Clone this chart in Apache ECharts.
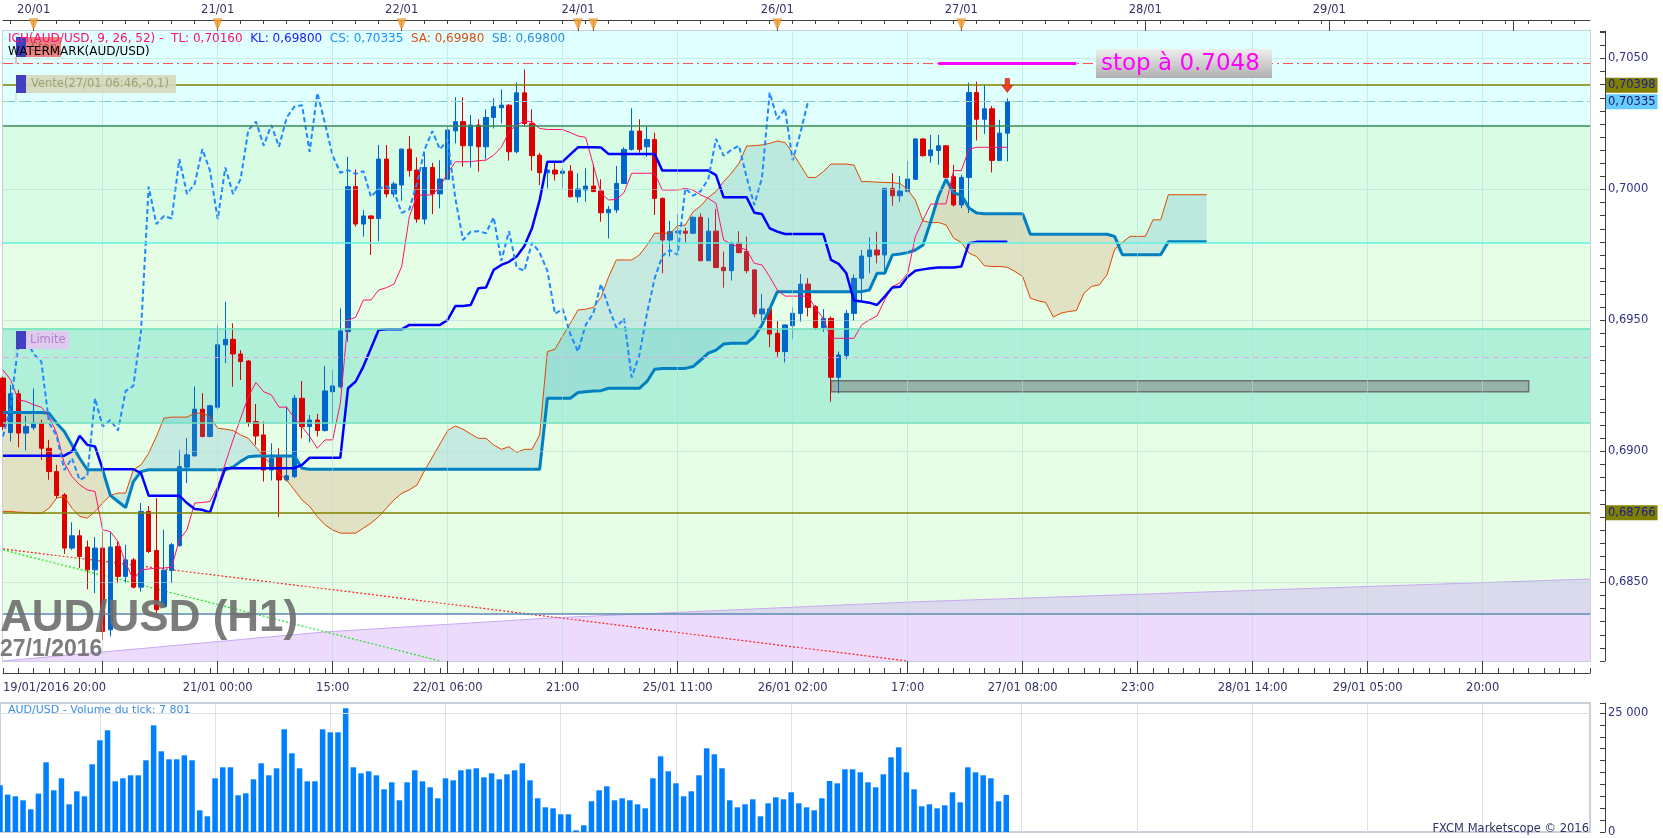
<!DOCTYPE html>
<html><head><meta charset="utf-8">
<script src="https://cdn.jsdelivr.net/npm/echarts/dist/echarts.min.js"></script>
<style>html,body{margin:0;padding:0;background:#fff}#c{width:1663px;height:838px}</style>
</head><body><div id="c"></div>
<script>
// ---------- DATA (AUD/USD H1, 19/01/2016 20:00 -> 27/01/2016 06:00) ----------
const sessions = [
  {y:2016, m:1, d:19, h:20, count:75},   // 19/01 20:00 .. 22/01 22:00
  {y:2016, m:1, d:24, h:22, count:133}   // 24/01 22:00 .. future slots
];
const opens=[0.69280,0.69072,0.69220,0.69070,0.69091,0.69108,0.69012,0.68923,0.68834,0.68631,
0.68678,0.68635,0.68548,0.68631,0.68319,0.68637,0.68523,0.68586,0.68482,0.68771,
0.68622,0.68408,0.68546,0.68640,0.68940,0.68983,0.69161,0.69057,0.69169,0.69407,
0.69428,0.69372,0.69345,0.69114,0.69063,0.68929,0.68980,0.68891,0.68904,0.69203,
0.69095,0.69120,0.69080,0.69228,0.69247,0.69457,0.70011,0.69868,0.69899,0.69889,
0.70116,0.69983,0.70017,0.70154,0.70074,0.69887,0.70084,0.69983,0.70039,0.70224,
0.70259,0.70167,0.70246,0.70163,0.70275,0.70312,0.70322,0.70144,0.70369,0.70252,
0.70131,0.70064,0.70074,0.70062,0.70070,0.69972,0.69998,0.70013,0.69994,0.69911,
0.69922,0.70023,0.70153,0.70223,0.70163,0.70191,0.69966,0.69807,0.69835,0.69841,
0.69833,0.69894,0.69728,0.69841,0.69703,0.69690,0.69797,0.69763,0.69693,0.69525,
0.69544,0.69451,0.69381,0.69480,0.69527,0.69639,0.69553,0.69473,0.69508,0.69283,
0.69366,0.69527,0.69661,0.69744,0.69769,0.69750,0.70004,0.69976,0.69992,0.70039,
0.70193,0.70129,0.70149,0.70167,0.70049,0.69941,0.70046,0.70370,0.70268,0.70308,
0.70111,0.70215];
const highs=[0.69286,0.69254,0.69235,0.69136,0.69241,0.69121,0.69044,0.68949,0.68841,0.68729,
0.68701,0.68660,0.68673,0.68694,0.68691,0.68656,0.68644,0.68593,0.68803,0.68792,
0.68822,0.68701,0.68650,0.69006,0.69051,0.69248,0.69222,0.69178,0.69480,0.69572,
0.69489,0.69387,0.69349,0.69181,0.69114,0.69031,0.69012,0.69171,0.69216,0.69269,
0.69139,0.69143,0.69326,0.69311,0.69546,0.70125,0.70077,0.69922,0.69901,0.70170,
0.70170,0.70030,0.70157,0.70204,0.70123,0.70140,0.70102,0.70112,0.70242,0.70352,
0.70352,0.70284,0.70268,0.70306,0.70348,0.70382,0.70326,0.70408,0.70458,0.70306,
0.70140,0.70077,0.70102,0.70081,0.70093,0.70062,0.70081,0.70097,0.70039,0.69937,
0.70090,0.70161,0.70310,0.70268,0.70240,0.70217,0.69969,0.69880,0.69905,0.69854,
0.69896,0.69909,0.69892,0.69925,0.69763,0.69801,0.69841,0.69820,0.69695,0.69601,
0.69546,0.69498,0.69483,0.69550,0.69677,0.69661,0.69559,0.69543,0.69515,0.69381,
0.69540,0.69676,0.69769,0.69817,0.69839,0.70007,0.70062,0.70051,0.70109,0.70195,
0.70195,0.70208,0.70208,0.70169,0.70094,0.70056,0.70408,0.70412,0.70399,0.70319,
0.70266,0.70348];
const lows=[0.69082,0.69038,0.69016,0.69004,0.69082,0.68968,0.68892,0.68822,0.68609,0.68624,
0.68555,0.68474,0.68459,0.68281,0.68294,0.68497,0.68497,0.68477,0.68465,0.68612,
0.68383,0.68402,0.68497,0.68637,0.68879,0.68981,0.69054,0.69054,0.69159,0.69337,
0.69247,0.69273,0.69095,0.69025,0.68885,0.68889,0.68750,0.68885,0.68898,0.69050,
0.69034,0.69057,0.69076,0.69108,0.69241,0.69419,0.69858,0.69820,0.69750,0.69803,
0.69970,0.69970,0.69957,0.70049,0.69873,0.69867,0.69906,0.69928,0.70036,0.70176,
0.70087,0.70084,0.70068,0.70115,0.70233,0.70252,0.70110,0.70138,0.70240,0.70072,
0.70017,0.70004,0.70034,0.70004,0.69970,0.69950,0.69953,0.69990,0.69877,0.69813,
0.69911,0.70021,0.70148,0.70140,0.70125,0.69903,0.69680,0.69744,0.69756,0.69794,
0.69830,0.69726,0.69727,0.69699,0.69625,0.69652,0.69756,0.69680,0.69512,0.69495,
0.69398,0.69362,0.69340,0.69428,0.69495,0.69515,0.69464,0.69457,0.69190,0.69222,
0.69352,0.69499,0.69572,0.69680,0.69718,0.69680,0.69938,0.69953,0.69989,0.70036,
0.70125,0.70102,0.70094,0.70043,0.69935,0.69929,0.69910,0.70187,0.70212,0.70065,
0.70108,0.70107];
const closes=[0.69095,0.69220,0.69070,0.69095,0.69108,0.69012,0.68923,0.68832,0.68631,0.68678,
0.68599,0.68548,0.68631,0.68313,0.68635,0.68523,0.68586,0.68482,0.68771,0.68618,
0.68396,0.68546,0.68644,0.68942,0.68987,0.69161,0.69057,0.69174,0.69407,0.69428,
0.69372,0.69343,0.69110,0.69059,0.68929,0.68974,0.68891,0.68907,0.69203,0.69095,
0.69120,0.69080,0.69231,0.69250,0.69460,0.70011,0.69868,0.69899,0.69889,0.70116,
0.69983,0.70021,0.70154,0.70072,0.69887,0.70084,0.69983,0.70040,0.70227,0.70259,
0.70167,0.70246,0.70163,0.70275,0.70316,0.70322,0.70144,0.70369,0.70252,0.70129,
0.70064,0.70074,0.70059,0.70070,0.69972,0.70002,0.70013,0.69992,0.69911,0.69924,
0.70023,0.70153,0.70223,0.70153,0.70191,0.69966,0.69807,0.69839,0.69841,0.69833,
0.69894,0.69728,0.69841,0.69702,0.69690,0.69797,0.69759,0.69690,0.69525,0.69544,
0.69448,0.69381,0.69483,0.69527,0.69639,0.69550,0.69473,0.69508,0.69283,0.69368,
0.69527,0.69661,0.69746,0.69769,0.69750,0.70004,0.69976,0.69994,0.70040,0.70193,
0.70129,0.70151,0.70167,0.70046,0.69941,0.70046,0.70370,0.70268,0.70308,0.70111,
0.70215,0.70335];
const tenkan=[0.69311,0.69273,0.69197,0.69191,0.69178,0.69169,0.69133,0.69070,0.68955,0.68904,
0.68873,0.68853,0.68847,0.68701,0.68694,0.68656,0.68574,0.68510,0.68548,0.68551,
0.68555,0.68555,0.68558,0.68663,0.68701,0.68803,0.68805,0.68809,0.68866,0.68955,
0.69044,0.69127,0.69209,0.69263,0.69228,0.69216,0.69169,0.69169,0.69127,0.69095,
0.69057,0.69012,0.69044,0.69044,0.69184,0.69502,0.69512,0.69578,0.69578,0.69616,
0.69625,0.69639,0.69705,0.69896,0.69979,0.69979,0.69979,0.70011,0.70062,0.70106,
0.70106,0.70106,0.70110,0.70112,0.70131,0.70161,0.70221,0.70246,0.70261,0.70259,
0.70233,0.70229,0.70229,0.70229,0.70217,0.70204,0.70199,0.70093,0.69985,0.69960,
0.69962,0.69988,0.70062,0.70062,0.70062,0.70062,0.69998,0.69998,0.69998,0.70004,
0.69998,0.69979,0.69966,0.69947,0.69807,0.69792,0.69779,0.69769,0.69718,0.69712,
0.69667,0.69616,0.69593,0.69593,0.69593,0.69593,0.69546,0.69508,0.69432,0.69432,
0.69432,0.69432,0.69483,0.69502,0.69517,0.69578,0.69629,0.69644,0.69680,0.69820,
0.69883,0.69944,0.69945,0.69945,0.70072,0.70072,0.70154,0.70161,0.70161,0.70161,
0.70161,0.70161];
const kijun=[0.68984,0.68984,0.68984,0.68984,0.68984,0.68984,0.68984,0.68984,0.68984,0.69000,
0.69060,0.69025,0.69019,0.68932,0.68932,0.68932,0.68932,0.68932,0.68917,0.68831,
0.68831,0.68831,0.68831,0.68831,0.68803,0.68780,0.68777,0.68767,0.68853,0.68936,
0.68936,0.68936,0.68936,0.68936,0.68936,0.68936,0.68936,0.68936,0.68936,0.68949,
0.68976,0.68976,0.68976,0.68976,0.68976,0.69241,0.69267,0.69324,0.69394,0.69464,
0.69466,0.69466,0.69466,0.69483,0.69483,0.69483,0.69483,0.69483,0.69502,0.69555,
0.69555,0.69559,0.69623,0.69626,0.69693,0.69712,0.69724,0.69744,0.69784,0.69852,
0.69960,0.70106,0.70106,0.70106,0.70134,0.70161,0.70161,0.70161,0.70160,0.70135,
0.70135,0.70135,0.70135,0.70135,0.70135,0.70135,0.70072,0.70072,0.70072,0.70072,
0.70072,0.70072,0.70072,0.70055,0.69970,0.69970,0.69970,0.69970,0.69911,0.69906,
0.69852,0.69839,0.69830,0.69830,0.69830,0.69830,0.69830,0.69830,0.69731,0.69716,
0.69680,0.69576,0.69572,0.69568,0.69559,0.69591,0.69626,0.69629,0.69667,0.69690,
0.69695,0.69699,0.69702,0.69702,0.69702,0.69706,0.69795,0.69800,0.69800,0.69800,
0.69800,0.69800];
const senkouA=[0.68771,0.68771,0.68768,0.68767,0.68764,0.68764,0.68783,0.68822,0.68828,0.68783,
0.68752,0.68745,0.68771,0.68803,0.68832,0.68841,0.68841,0.68930,0.68949,0.68993,
0.69057,0.69127,0.69131,0.69131,0.69131,0.69146,0.69146,0.69133,0.69089,0.69085,
0.69080,0.69063,0.69050,0.69016,0.68980,0.68949,0.68917,0.68891,0.68853,0.68815,
0.68790,0.68751,0.68720,0.68700,0.68688,0.68688,0.68688,0.68707,0.68726,0.68751,
0.68783,0.68815,0.68840,0.68853,0.68872,0.68927,0.68978,0.69029,0.69080,0.69097,
0.69085,0.69067,0.69050,0.69050,0.69025,0.69008,0.69018,0.68996,0.69008,0.69008,
0.69063,0.69381,0.69390,0.69441,0.69489,0.69540,0.69543,0.69550,0.69588,0.69667,
0.69731,0.69731,0.69731,0.69750,0.69788,0.69833,0.69833,0.69833,0.69862,0.69864,
0.69915,0.69937,0.69970,0.69992,0.70030,0.70062,0.70100,0.70166,0.70167,0.70170,
0.70176,0.70185,0.70179,0.70140,0.70093,0.70046,0.70046,0.70068,0.70097,0.70097,
0.70097,0.70093,0.70030,0.70030,0.70028,0.70027,0.70026,0.70023,0.70000,0.69960,
0.69880,0.69873,0.69874,0.69865,0.69814,0.69798,0.69757,0.69744,0.69709,0.69706,
0.69706,0.69703,0.69687,0.69668,0.69585,0.69575,0.69569,0.69513,0.69528,0.69534,
0.69538,0.69604,0.69630,0.69636,0.69674,0.69772,0.69798,0.69821,0.69821,0.69821,
0.69884,0.69884,0.69980,0.69980,0.69980,0.69980,0.69980,0.69980];
const senkouB=[0.69149,0.69149,0.69149,0.69149,0.69149,0.69149,0.69146,0.69108,0.69076,0.69025,
0.68974,0.68930,0.68930,0.68930,0.68832,0.68809,0.68786,0.68885,0.68923,0.68930,
0.68930,0.68930,0.68930,0.68930,0.68930,0.68930,0.68930,0.68930,0.68930,0.68930,
0.68940,0.68962,0.68980,0.68983,0.68983,0.68983,0.68983,0.68983,0.68983,0.68936,
0.68932,0.68932,0.68932,0.68932,0.68932,0.68932,0.68932,0.68932,0.68932,0.68932,
0.68932,0.68932,0.68932,0.68932,0.68932,0.68932,0.68932,0.68932,0.68932,0.68932,
0.68932,0.68932,0.68932,0.68932,0.68932,0.68932,0.68932,0.68932,0.68932,0.68932,
0.68932,0.69203,0.69203,0.69203,0.69203,0.69225,0.69228,0.69231,0.69232,0.69241,
0.69241,0.69241,0.69241,0.69241,0.69267,0.69314,0.69317,0.69317,0.69317,0.69317,
0.69324,0.69349,0.69375,0.69387,0.69410,0.69413,0.69413,0.69413,0.69438,0.69483,
0.69543,0.69610,0.69610,0.69610,0.69610,0.69610,0.69610,0.69610,0.69610,0.69610,
0.69610,0.69610,0.69610,0.69616,0.69680,0.69680,0.69750,0.69754,0.69759,0.69769,
0.69788,0.69877,0.69973,0.70039,0.69986,0.69980,0.69929,0.69910,0.69907,0.69907,
0.69907,0.69907,0.69907,0.69907,0.69829,0.69829,0.69829,0.69829,0.69829,0.69829,
0.69829,0.69829,0.69829,0.69829,0.69829,0.69821,0.69751,0.69751,0.69751,0.69751,
0.69751,0.69751,0.69800,0.69800,0.69800,0.69800,0.69800,0.69800];
const volumes=[9811,7857,7500,6660,4769,8067,14643,8760,11281,5819,
8550,7500,14222,19264,21365,10651,11281,11911,11911,15063,
22416,16953,15273,15273,16113,15063,4559,3298,11281,13592,
13592,7710,8130,11071,14432,11911,13382,21575,16533,13382,
10651,10651,21575,20945,20945,25987,13592,12332,12752,11911,
8970,10441,6660,10441,12962,10651,9391,7080,11281,10861,
12962,13172,13382,11491,12332,11071,12122,12962,14432,10861,
7080,5189,4979,3718,3718,357,1408,6449,8760,9601,
6660,7080,6660,5819,4979,11281,15903,12752,10231,7500,
8550,11911,17584,16323,13382,6660,5189,5819,6870,3298,
6029,7290,6870,8340,6029,5189,4559,7080,10714,10231,
13172,13172,12542,10441,9391,12122,15693,17794,12542,8970,
5399,5819,4979,5609,8340,6239,13592,12542,11911,11281,
6449,7801];
// support / resistance levels and zones
const zoneBands=[[0.70244,0.70605,'#e0ffff'],[0.69798,0.70244,'#d8fce4'],[0.69470,0.69798,'#e6fde6'],
 [0.69108,0.69470,'#b0f0d8'],[0.68380,0.69108,'#e6fde6'],[0.68200,0.68380,'#ffffff']];
const stopLevel=0.7048, resLevel=0.70398, closeLevel=0.70335, supLevel=0.68766;
const zoneLines=[[0.70244,'#3a8a5a'],[0.69798,'#60f0e0'],[0.69470,'#70e0c0'],[0.69108,'#70e0c0'],[0.68380,'#5a8ab0']];
const limiteLevel=0.69358;
const gridPriceLines=[0.6850,0.6900,0.6950,0.7000,0.7050];
const targetBox=[[108,0.69270],[199,0.69228]];
const stopSegment=[[122,0.7048],[140,0.7048]];
const channelTop=[[0,0.68200],[42,0.68311],[72,0.68365],[119,0.68426],[207,0.68513]];
const redTrend=[[0,0.68628],[118,0.68200]];
const greenTrend=[[0,0.68624],[57,0.68200]];
// tick labels
const topDayLabels={4:'20/01',28:'21/01',52:'22/01',75:'24/01',101:'26/01',125:'27/01',149:'28/01',173:'29/01'};
const dayTicks=[4,28,52,75,77,101,125,149,173,197];
const dayMarkers=[4,28,52,75,77,101,125];
const bottomLabels={0:'19/01/2016 20:00',28:'21/01 00:00',43:'15:00',58:'22/01 06:00',73:'21:00',88:'25/01 11:00',
 103:'26/01 02:00',118:'17:00',133:'27/01 08:00',148:'23:00',163:'28/01 14:00',178:'29/01 05:00',193:'20:00'};

// ---------- build ----------
const pad=n=>String(n).padStart(2,'0');
const categories=[];
sessions.forEach(s=>{for(let k=0;k<s.count;k++){const t=new Date(Date.UTC(s.y,s.m-1,s.d,s.h+k));
 categories.push(pad(t.getUTCDate())+'/'+pad(t.getUTCMonth()+1)+' '+pad(t.getUTCHours())+':00');}});
const candleData=opens.map((o,i)=>[o,closes[i],lows[i],highs[i]]);
const chikou=closes.slice(26);
const cloudBase=senkouA.map((a,i)=>Math.min(a,senkouB[i]));
const cloudBull=senkouA.map((a,i)=>a>=senkouB[i]?+(a-senkouB[i]).toFixed(5):0);
const cloudBear=senkouA.map((a,i)=>a<senkouB[i]?+(senkouB[i]-a).toFixed(5):0);
const isMajor=i=>i>=13&&(i-13)%15===0;
const isMinor=i=>((i-13)%15+15)%15%2===0;
const F='"DejaVu Sans", Verdana, sans-serif';
const axisCol='#333366';

const hLine=(v,color,type,width)=>({yAxis:v,lineStyle:{color:color,type:type||'solid',width:width||1}});
const boxLabel=(txt,bg,fg)=>({show:true,position:'end',distance:16,formatter:txt,backgroundColor:bg,color:fg,
  fontFamily:F,fontSize:11.5,padding:[2,2,1,2]});

const zoneMarkLines=[]
  .concat(gridPriceLines.map(v=>hLine(v,'rgba(175,220,215,0.55)')))
  .concat(categories.map((c,i)=>i).filter(isMajor).map(i=>({xAxis:i,lineStyle:{color:'rgba(175,220,215,0.55)',width:1,type:'solid'}})))
  .concat(zoneLines.map(z=>hLine(z[0],z[1],'solid',1.5)))
  .concat([
    hLine(stopLevel,'#ff5050',[10,4,2,4],1.2),
    Object.assign(hLine(resLevel,'#808000','solid',1.5),{label:boxLabel('0,70398','#808000','#1a1aa0')}),
    hLine(closeLevel,'#a8d8a0',[10,6],1.2),
    {yAxis:closeLevel,lineStyle:{color:'#70c0f0',type:[6,10],dashOffset:10,width:1.2},label:boxLabel('0,70335','#66ccff','#1a1a60')},
    hLine(limiteLevel,'#e0a8e8',[6,4],1.2),
    Object.assign(hLine(supLevel,'#808000','solid',1.5),{label:boxLabel('0,68766','#808000','#1a1aa0')})
  ]);

const chart=echarts.init(document.getElementById('c'),null,{renderer:'canvas'});
chart.setOption({
  animation:false,
  backgroundColor:'#ffffff',
  textStyle:{fontFamily:F},
  grid:[
    {left:0,right:73,top:31,bottom:177,show:true,backgroundColor:'#e6fde6',borderColor:'#c8d0dc',borderWidth:2},
    {left:0,right:73,top:703,bottom:6,show:true,backgroundColor:'#ffffff',borderColor:'#c8d0dc',borderWidth:2}
  ],
  xAxis:[
    {type:'category',gridIndex:0,data:categories,boundaryGap:false,position:'bottom',offset:12,
     axisLine:{lineStyle:{color:'#404040'}},
     axisTick:{interval:(i)=>isMajor(i),inside:true,length:12,lineStyle:{color:'#404040'}},
     axisLabel:{interval:(i)=>bottomLabels[i]!==undefined,formatter:(v,i)=>bottomLabels[i]||'',color:axisCol,fontSize:11.5,fontFamily:F,margin:9,alignMinLabel:'left'},
     splitLine:{show:false}},
    {type:'category',gridIndex:0,data:categories,boundaryGap:false,position:'bottom',offset:12,
     axisLine:{show:false},axisTick:{interval:(i)=>isMinor(i),inside:true,length:5,lineStyle:{color:'#404040'}},
     axisLabel:{show:false},splitLine:{show:false}},
    {type:'category',gridIndex:0,data:categories,boundaryGap:false,position:'top',offset:11,
     axisLine:{lineStyle:{color:'#404040'}},axisTick:{interval:(i)=>i%3===1,inside:true,length:4,lineStyle:{color:'#404040'}},
     axisLabel:{show:false},splitLine:{show:false}},
    {type:'category',gridIndex:0,data:categories,boundaryGap:false,position:'top',offset:11,
     axisLine:{show:false},axisTick:{interval:(i)=>dayTicks.indexOf(i)>=0,inside:true,length:11,lineStyle:{color:'#404040'}},
     axisLabel:{interval:(i)=>topDayLabels[i]!==undefined,formatter:(v,i)=>topDayLabels[i]||'',color:axisCol,fontSize:11.5,fontFamily:F,margin:4},
     splitLine:{show:false}},
    {type:'category',gridIndex:1,data:categories,boundaryGap:false,
     axisLine:{show:false},axisTick:{show:false},axisLabel:{show:false},
     splitLine:{show:true,interval:(i)=>isMajor(i),lineStyle:{color:'#e0e0e0'}}}
  ],
  yAxis:[
    {type:'value',gridIndex:0,position:'right',offset:15,min:0.682,max:0.70605,interval:0.0005,
     axisLine:{show:true,lineStyle:{color:'#404040'}},axisTick:{show:true,inside:true,length:5,lineStyle:{color:'#404040'}},
     axisLabel:{color:'#333380',fontSize:11.5,fontFamily:F,margin:3,
       formatter:(v)=>{const k=v/0.005;return Math.abs(k-Math.round(k))<1e-6?v.toFixed(4).replace('.',','):'';}},
     splitLine:{show:false}},
    {type:'value',gridIndex:1,position:'right',offset:15,min:0,max:27100,interval:2500,
     axisLine:{show:true,lineStyle:{color:'#404040'}},axisTick:{show:true,inside:true,length:5,lineStyle:{color:'#404040'}},
     axisLabel:{color:'#333380',fontSize:11.5,fontFamily:F,margin:3,formatter:(v)=>v===0?'0':(v===25000?'25 000':'')},
     splitLine:{show:false}}
  ],
  series:[
    {name:'zones',type:'line',xAxisIndex:0,yAxisIndex:0,data:[],z:1,silent:true,clip:false,
     markArea:{silent:true,data:zoneBands.map(b=>[{yAxis:b[0],itemStyle:{color:b[2]}},{yAxis:b[1]}])
        .concat([[{coord:targetBox[0],itemStyle:{color:'rgba(128,128,128,0.54)',borderColor:'#707070',borderWidth:1.5}},{coord:targetBox[1]}]])},
     markLine:{silent:true,symbol:'none',precision:6,label:{show:false},data:zoneMarkLines}},
    {name:'channel',type:'line',xAxisIndex:0,yAxisIndex:0,data:channelTop,z:1.2,symbol:'none',silent:true,
     lineStyle:{color:'#c8a8f0',width:1},areaStyle:{origin:'start',color:'rgba(190,125,250,0.4)'}},
    {name:'trendRed',type:'line',xAxisIndex:0,yAxisIndex:0,data:redTrend,z:1.3,symbol:'none',silent:true,
     lineStyle:{color:'#ff2020',width:1.2,type:[2,2]}},
    {name:'trendGreen',type:'line',xAxisIndex:0,yAxisIndex:0,data:greenTrend,z:1.3,symbol:'none',silent:true,
     lineStyle:{color:'#20e020',width:1.2,type:[2,2]}},
    {name:'cloudBase',type:'line',xAxisIndex:0,yAxisIndex:0,data:cloudBase,stack:'cloud',symbol:'none',z:1.5,silent:true,
     lineStyle:{opacity:0}},
    {name:'cloudBull',type:'line',xAxisIndex:0,yAxisIndex:0,data:cloudBull,stack:'cloud',symbol:'none',z:3,silent:true,
     lineStyle:{opacity:0},areaStyle:{color:'rgba(87,165,203,0.3)'}},
    {name:'cloudBear',type:'line',xAxisIndex:0,yAxisIndex:0,data:cloudBear,stack:'cloud',symbol:'none',z:1.5,silent:true,
     lineStyle:{opacity:0},areaStyle:{color:'rgba(210,140,87,0.35)'}},
    {name:'AUD/USD',type:'candlestick',xAxisIndex:0,yAxisIndex:0,data:candleData,barWidth:5,z:2,
     itemStyle:{color:'#0066cc',color0:'#dd0000',borderColor:'#0066cc',borderColor0:'#dd0000',borderWidth:1}},
    {name:'SA',type:'line',xAxisIndex:0,yAxisIndex:0,data:senkouA,symbol:'none',z:4,lineStyle:{color:'#e04800',width:1}},
    {name:'SB',type:'line',xAxisIndex:0,yAxisIndex:0,data:senkouB,symbol:'none',z:4,lineStyle:{color:'#0080c0',width:3}},
    {name:'TL',type:'line',xAxisIndex:0,yAxisIndex:0,data:tenkan,symbol:'none',z:4,lineStyle:{color:'#ff1070',width:1}},
    {name:'KL',type:'line',xAxisIndex:0,yAxisIndex:0,data:kijun,symbol:'none',z:4,lineStyle:{color:'#0000ff',width:2.5}},
    {name:'CS',type:'line',xAxisIndex:0,yAxisIndex:0,data:chikou,symbol:'none',z:4,lineStyle:{color:'#1e88ff',width:2,type:[5,3]}},
    {name:'annot',type:'line',xAxisIndex:0,yAxisIndex:0,data:[],z:5,clip:false,silent:true,
     markLine:{silent:true,symbol:'none',precision:6,label:{show:false},
       data:[[{coord:stopSegment[0],lineStyle:{color:'#ff00ff',width:3,type:'solid'}},{coord:stopSegment[1]}]]},
     markPoint:{silent:true,data:[{coord:[131,0.70397],symbol:'path://M3,0 L7,0 L7,6 L10,6 L5,12 L0,6 L3,6 Z',
       symbolSize:[11,14],itemStyle:{color:'#f04020',borderColor:'#b01010',borderWidth:0.5},label:{show:false}}]}},
    {name:'days',type:'scatter',xAxisIndex:0,yAxisIndex:0,clip:false,silent:true,z:6,
     data:dayMarkers.map(i=>[i,0.70631]),symbol:'triangle',symbolRotate:180,symbolSize:[9,11],
     itemStyle:{color:'#f8a030',borderColor:'#d08010',borderWidth:0.5}},
    {name:'Volume',type:'bar',xAxisIndex:4,yAxisIndex:1,data:volumes,barWidth:5.5,itemStyle:{color:'#0080ff'},
     markLine:{silent:true,symbol:'none',label:{show:false},data:[{yAxis:25000,lineStyle:{color:'#e0e0e0',type:'solid',width:1}}]}}
  ],
  graphic:[
    {type:'rect',z:100,shape:{x:16,y:37,width:10,height:20},style:{fill:'#4040c0'}},
    {type:'rect',z:100,shape:{x:26,y:37,width:35,height:20},style:{fill:'rgba(240,100,100,0.8)'}},
    {type:'text',z:100,x:31,y:48,style:{text:'Stop',fill:'rgba(120,40,40,0.5)',font:'11.5px '+F,verticalAlign:'middle'}},
    {type:'line',z:100,shape:{x1:16,y1:57,x2:16,y2:64},style:{stroke:'#ff8080',lineWidth:1}},
    {type:'text',z:101,x:8,y:39,style:{
      text:'{p|ICH(AUD/USD, 9, 26, 52) -  TL: 0,70160}  {k|KL: 0,69800}  {c|CS: 0,70335}  {a|SA: 0,69980}  {b|SB: 0,69800}',
      verticalAlign:'middle',font:'12px '+F,fill:'#ff1070',
      rich:{p:{fill:'#ff1070',font:'12px '+F},k:{fill:'#2020ff',font:'12px '+F},c:{fill:'#1e90ff',font:'12px '+F},
            a:{fill:'#e05010',font:'12px '+F},b:{fill:'#3090e0',font:'12px '+F}}}},
    {type:'text',z:101,x:8,y:52,style:{text:'WATERMARK(AUD/USD)',fill:'#000000',font:'12px '+F,verticalAlign:'middle'}},
    {type:'rect',z:100,shape:{x:16,y:75,width:10,height:18},style:{fill:'#4040c0'}},
    {type:'rect',z:100,shape:{x:26,y:75,width:150,height:18},style:{fill:'rgba(212,216,186,0.9)'}},
    {type:'text',z:101,x:31,y:84,style:{text:'Vente(27/01 06:46,-0,1)',fill:'#a0a078',font:'11.5px '+F,verticalAlign:'middle'}},
    {type:'line',z:100,shape:{x1:16,y1:93,x2:16,y2:101},style:{stroke:'#d8d8a0',lineWidth:1}},
    {type:'rect',z:100,shape:{x:16,y:331,width:10,height:18},style:{fill:'#4040c0'}},
    {type:'rect',z:100,shape:{x:26,y:331,width:43,height:18},style:{fill:'rgba(226,200,240,0.95)'}},
    {type:'text',z:101,x:30,y:340,style:{text:'Limite',fill:'#b080c8',font:'11.5px '+F,verticalAlign:'middle'}},
    {type:'line',z:100,shape:{x1:16,y1:349,x2:16,y2:358},style:{stroke:'#e0b0e8',lineWidth:1}},
    {type:'rect',z:100,shape:{x:1096,y:49,width:176,height:29},
     style:{fill:new echarts.graphic.LinearGradient(0,0,0,1,[{offset:0,color:'#eeeeee'},{offset:1,color:'#b0b0b0'}])}},
    {type:'text',z:101,x:1101,y:64,style:{text:'stop à 0.7048',fill:'#ff00ff',font:'23px '+F,verticalAlign:'middle'}},
    {type:'text',z:90,x:0,y:619,style:{text:'AUD/USD (H1)',fill:'rgba(110,110,110,0.9)',font:'bold 44px "Liberation Sans", Arial, sans-serif',verticalAlign:'middle'}},
    {type:'text',z:90,x:0,y:650,style:{text:'27/1/2016',fill:'rgba(110,110,110,0.9)',font:'bold 23px "Liberation Sans", Arial, sans-serif',verticalAlign:'middle'}},
    {type:'text',z:101,x:8,y:710,style:{text:'AUD/USD - Volume du tick: 7 801',fill:'#3b8de0',font:'11px '+F,verticalAlign:'middle'}},
    {type:'text',z:101,x:1589,y:829,style:{text:'FXCM Marketscope © 2016',fill:axisCol,font:'11.5px '+F,verticalAlign:'middle',align:'right'}}
  ]
});
</script></body></html>
